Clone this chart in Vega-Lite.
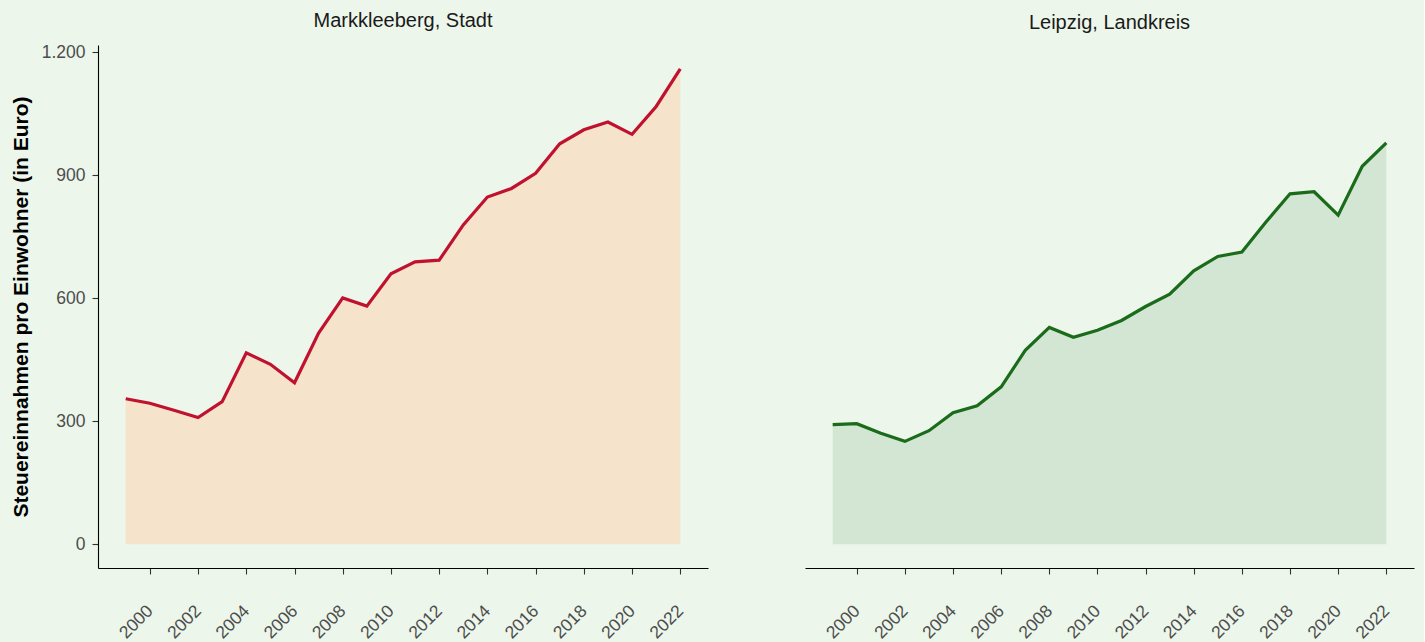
{
  "$schema": "https://vega.github.io/schema/vega-lite/v6.json",
  "background": "#ECF6EB",
  "padding": {"left": 10, "top": 11, "right": 10, "bottom": 0},
  "spacing": 97,
  "data": {
    "values": [
      {"region": "Markkleeberg, Stadt", "year": 1999, "value": 355},
      {"region": "Markkleeberg, Stadt", "year": 2000, "value": 344},
      {"region": "Markkleeberg, Stadt", "year": 2001, "value": 327},
      {"region": "Markkleeberg, Stadt", "year": 2002, "value": 309},
      {"region": "Markkleeberg, Stadt", "year": 2003, "value": 348},
      {"region": "Markkleeberg, Stadt", "year": 2004, "value": 467},
      {"region": "Markkleeberg, Stadt", "year": 2005, "value": 439},
      {"region": "Markkleeberg, Stadt", "year": 2006, "value": 394},
      {"region": "Markkleeberg, Stadt", "year": 2007, "value": 515},
      {"region": "Markkleeberg, Stadt", "year": 2008, "value": 601},
      {"region": "Markkleeberg, Stadt", "year": 2009, "value": 581},
      {"region": "Markkleeberg, Stadt", "year": 2010, "value": 660},
      {"region": "Markkleeberg, Stadt", "year": 2011, "value": 689},
      {"region": "Markkleeberg, Stadt", "year": 2012, "value": 693},
      {"region": "Markkleeberg, Stadt", "year": 2013, "value": 779},
      {"region": "Markkleeberg, Stadt", "year": 2014, "value": 847},
      {"region": "Markkleeberg, Stadt", "year": 2015, "value": 868},
      {"region": "Markkleeberg, Stadt", "year": 2016, "value": 905},
      {"region": "Markkleeberg, Stadt", "year": 2017, "value": 977},
      {"region": "Markkleeberg, Stadt", "year": 2018, "value": 1011},
      {"region": "Markkleeberg, Stadt", "year": 2019, "value": 1030},
      {"region": "Markkleeberg, Stadt", "year": 2020, "value": 1000},
      {"region": "Markkleeberg, Stadt", "year": 2021, "value": 1068},
      {"region": "Markkleeberg, Stadt", "year": 2022, "value": 1160},
      {"region": "Leipzig, Landkreis", "year": 1999, "value": 292},
      {"region": "Leipzig, Landkreis", "year": 2000, "value": 294},
      {"region": "Leipzig, Landkreis", "year": 2001, "value": 271},
      {"region": "Leipzig, Landkreis", "year": 2002, "value": 251},
      {"region": "Leipzig, Landkreis", "year": 2003, "value": 277},
      {"region": "Leipzig, Landkreis", "year": 2004, "value": 321},
      {"region": "Leipzig, Landkreis", "year": 2005, "value": 338},
      {"region": "Leipzig, Landkreis", "year": 2006, "value": 384},
      {"region": "Leipzig, Landkreis", "year": 2007, "value": 473},
      {"region": "Leipzig, Landkreis", "year": 2008, "value": 529},
      {"region": "Leipzig, Landkreis", "year": 2009, "value": 505},
      {"region": "Leipzig, Landkreis", "year": 2010, "value": 522},
      {"region": "Leipzig, Landkreis", "year": 2011, "value": 546},
      {"region": "Leipzig, Landkreis", "year": 2012, "value": 580},
      {"region": "Leipzig, Landkreis", "year": 2013, "value": 610},
      {"region": "Leipzig, Landkreis", "year": 2014, "value": 667},
      {"region": "Leipzig, Landkreis", "year": 2015, "value": 702},
      {"region": "Leipzig, Landkreis", "year": 2016, "value": 713},
      {"region": "Leipzig, Landkreis", "year": 2017, "value": 786},
      {"region": "Leipzig, Landkreis", "year": 2018, "value": 855},
      {"region": "Leipzig, Landkreis", "year": 2019, "value": 860},
      {"region": "Leipzig, Landkreis", "year": 2020, "value": 803},
      {"region": "Leipzig, Landkreis", "year": 2021, "value": 922},
      {"region": "Leipzig, Landkreis", "year": 2022, "value": 979}
    ]
  },
  "config": {
    "view": {"stroke": null},
    "font": "Liberation Sans",
    "axis": {
      "grid": false,
      "domainColor": "#000000",
      "domainWidth": 1.1,
      "tickColor": "#333333",
      "tickWidth": 1.1,
      "tickSize": 6,
      "labelColor": "#4D4D4D",
      "labelFontSize": 17.5,
      "labelFont": "Liberation Sans",
      "titleFont": "Liberation Sans"
    },
    "title": {
      "fontSize": 20,
      "fontWeight": "normal",
      "color": "#1A1A1A",
      "font": "Liberation Sans",
      "anchor": "middle",
      "offset": 12,
      "baseline": "alphabetic"
    }
  },
  "resolve": {"scale": {"x": "independent", "y": "independent"}},
  "hconcat": [
    {
      "title": "Markkleeberg, Stadt",
      "width": 610,
      "height": 523,
      "transform": [{"filter": "datum.region === 'Markkleeberg, Stadt'"}],
      "encoding": {
        "x": {
          "field": "year",
          "type": "quantitative",
          "scale": {"domain": [1997.85, 2023.15], "nice": false, "zero": false},
          "axis": {
            "title": null,
            "values": [2000, 2002, 2004, 2006, 2008, 2010, 2012, 2014, 2016, 2018, 2020, 2022],
            "format": "d",
            "labelAngle": -45,
            "labelAlign": "right",
            "labelBaseline": "middle",
            "labelPadding": 34
          }
        },
        "y": {
          "field": "value",
          "type": "quantitative",
          "scale": {"domain": [-58, 1218], "nice": false, "zero": false},
          "axis": {
            "title": "Steuereinnahmen pro Einwohner (in Euro)",
            "titleFontSize": 21,
            "titleFontWeight": "bold",
            "titleColor": "#000000",
            "titlePadding": 10,
            "values": [0, 300, 600, 900, 1200],
            "labelExpr": "replace(format(datum.value, ','), ',', '.')",
            "labelPadding": 7
          }
        }
      },
      "layer": [
        {
          "mark": {"type": "area", "color": "#F5E3CC", "opacity": 1},
          "encoding": {"y2": {"datum": 0}}
        },
        {
          "mark": {"type": "line", "color": "#C0122E", "strokeWidth": 3.2},
          "encoding": {}
        }
      ]
    },
    {
      "title": "Leipzig, Landkreis",
      "width": 609,
      "height": 523,
      "transform": [{"filter": "datum.region === 'Leipzig, Landkreis'"}],
      "encoding": {
        "x": {
          "field": "year",
          "type": "quantitative",
          "scale": {"domain": [1997.85, 2023.15], "nice": false, "zero": false},
          "axis": {
            "title": null,
            "values": [2000, 2002, 2004, 2006, 2008, 2010, 2012, 2014, 2016, 2018, 2020, 2022],
            "format": "d",
            "labelAngle": -45,
            "labelAlign": "right",
            "labelBaseline": "middle",
            "labelPadding": 34
          }
        },
        "y": {
          "field": "value",
          "type": "quantitative",
          "scale": {"domain": [-58, 1218], "nice": false, "zero": false},
          "axis": null
        }
      },
      "layer": [
        {
          "mark": {"type": "area", "color": "#D3E5D3", "opacity": 1},
          "encoding": {"y2": {"datum": 0}}
        },
        {
          "mark": {"type": "line", "color": "#1A6B1A", "strokeWidth": 3.2},
          "encoding": {}
        }
      ]
    }
  ]
}
